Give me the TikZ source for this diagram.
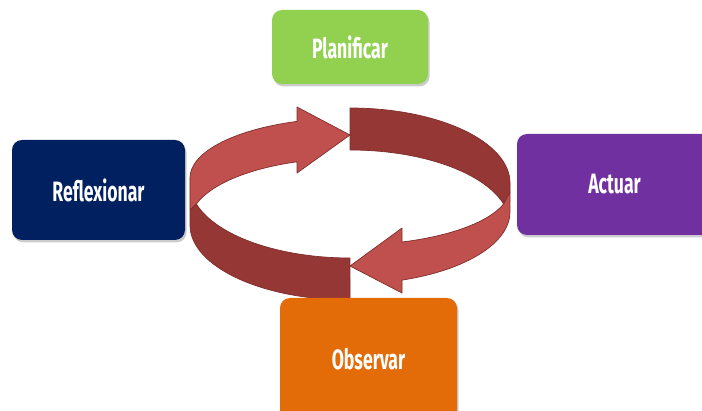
\documentclass[tikz,border=0pt]{standalone}
\usepackage{fontspec}
\newfontfamily\phasefont[FakeStretch=0.63]{Fira Sans}
\usetikzlibrary{shadows}

\definecolor{planGreen}{HTML}{92D050}
\definecolor{reflBlue}{HTML}{002060}
\definecolor{actPurple}{HTML}{7030A0}
\definecolor{obsOrange}{HTML}{E36C09}
\definecolor{ribbonLight}{HTML}{C0504D}
\definecolor{ribbonDark}{HTML}{953735}
\definecolor{ribbonEdge}{HTML}{7F2E2C}

\begin{document}
\begin{tikzpicture}[x=1pt, y=1pt,
    phase/.style={rounded corners=10pt, text=white,
        font=\phasefont\bfseries\fontsize{28}{30}\selectfont,
        drop shadow={shadow xshift=1.5pt, shadow yshift=-2.5pt, opacity=.4}},
    band light/.style={fill=ribbonLight, draw=ribbonEdge, line width=.7pt, line join=round},
    band dark/.style={fill=ribbonDark, draw=ribbonEdge, line width=.7pt, line join=round}]
        \useasboundingbox (0,0) rectangle (702,410);
        \clip (0,0) rectangle (702,410);

        % Back of the ring: dark part on the right
        \draw[band dark] (350,302) arc[start angle=90, end angle=0, x radius=160, y radius=75]
            -- (510,218) -- (503.6,206)
            arc[start angle=16.26, end angle=90, x radius=160, y radius=75] -- cycle;

        % Back of the ring: light arrow on the left
        \draw[band light] (190,200) -- (196.4,206)
            arc[start angle=163.74, end angle=109.33, x radius=160, y radius=63.6]
            -- (297,237) -- (350,275) -- (297,303) -- (297,288.6)
            arc[start angle=109.33, end angle=180, x radius=160, y radius=60] -- cycle;

        % Front of the ring: dark part on the left
        \draw[band dark] (196.4,206) arc[start angle=196.26, end angle=270, x radius=160, y radius=75]
            -- (350,110)
            arc[start angle=270, end angle=180, x radius=160, y radius=75]
            -- (190,200) -- cycle;

        % Front of the ring: light arrow on the right
        \draw[band light] (510,218) -- (503.6,206)
            arc[start angle=-16.26, end angle=-71.03, x radius=160, y radius=57.1]
            -- (402,182) -- (350,144) -- (402,117) -- (402,129.9)
            arc[start angle=-71.03, end angle=0, x radius=160, y radius=72] -- cycle;

        % The four phases
        \node[phase, fill=planGreen, minimum width=156pt, minimum height=74pt] (plan) at (350,363) {Planificar};
        \node[phase, fill=reflBlue, minimum width=173pt, minimum height=100pt] (refl) at (98.5,220) {Reflexionar};
        \node[phase, fill=actPurple, minimum width=195pt, minimum height=101pt] (act) at (614.5,225.5) {Actuar};
        \node[phase, fill=obsOrange, minimum width=177pt, minimum height=122pt] (obs) at (368.5,51) {Observar};
    \end{tikzpicture}
\end{document}
